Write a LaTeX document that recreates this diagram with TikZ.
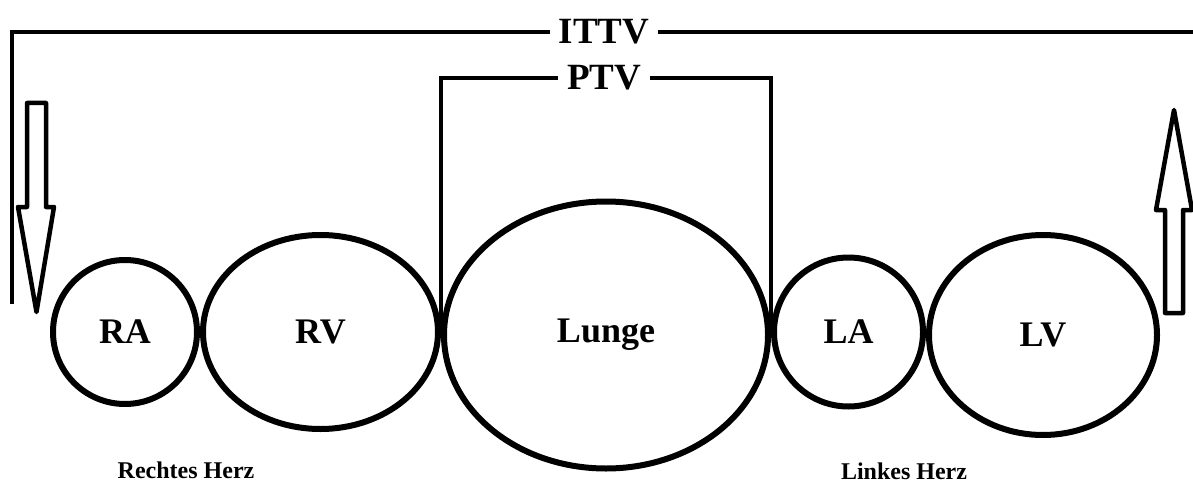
\documentclass[tikz,border=0pt]{standalone}
\usepackage{fontspec}
\setmainfont{Liberation Serif}
\usepackage{tikz}
\usetikzlibrary{positioning, shapes.geometric}

\begin{document}
\begin{tikzpicture}[
    x=1pt, y=-1pt,
    organ/.style={draw=black, ellipse, line width=6pt, inner sep=0pt, font=\bfseries\fontsize{36}{40}\selectfont},
    volume/.style={anchor=base, inner sep=9pt, font=\bfseries\fontsize{37}{40}\selectfont},
    side/.style={anchor=base, font=\bfseries\fontsize{24}{28}\selectfont},
    bracket/.style={draw=black, line width=3.5pt},
    hollow/.style={draw=black, line width=4.5pt, fill=white, line join=round}
]
\useasboundingbox (0,0) rectangle (1193,484);

% Heart chambers and lung
\node[organ, minimum width=144pt, minimum height=144pt] (ra) at (125,332) {RA};
\node[organ, minimum width=235pt, minimum height=194pt, right=0pt of ra] (rv) {RV};
\node[organ, minimum width=324pt, minimum height=267pt, right=0pt of rv, yshift=-3pt] (lunge) {Lunge};
\node[organ, minimum width=149pt, minimum height=149pt, right=0pt of lunge, yshift=3pt] (la) {LA};
\node[organ, minimum width=228pt, minimum height=200pt, right=0pt of la, yshift=-3pt] (lv) {LV};

% Sides
\node[side] (rechts) at (186,478) {Rechtes Herz};
\node[side] (links) at (904,479) {Linkes Herz};

% Volumes
\node[volume] (ittv) at (604,44) {ITTV};
\node[volume] (ptv) at (604,90) {PTV};
\coordinate (ittvL) at (12,304);
\coordinate (ittvR) at (1193,32);

\draw[bracket] (ittvL) |- (ittv.west);
\draw[bracket] (ittv.east) -- (ittvR |- ittv.east);
\draw[bracket] (lunge.west) |- (ptv.west);
\draw[bracket] (ptv.east) -| (lunge.east);

% Flow in / out
\draw[hollow] (27,103) -- (46,103) -- (46,207) -- (54,207) -- (36.5,312) -- (18,207) -- (27,207) -- cycle;
\draw[hollow] (1165,313) -- (1183,313) -- (1183,210) -- (1192,210) -- (1174,110) -- (1156,210) -- (1165,210) -- cycle;

\end{tikzpicture}
\end{document}
